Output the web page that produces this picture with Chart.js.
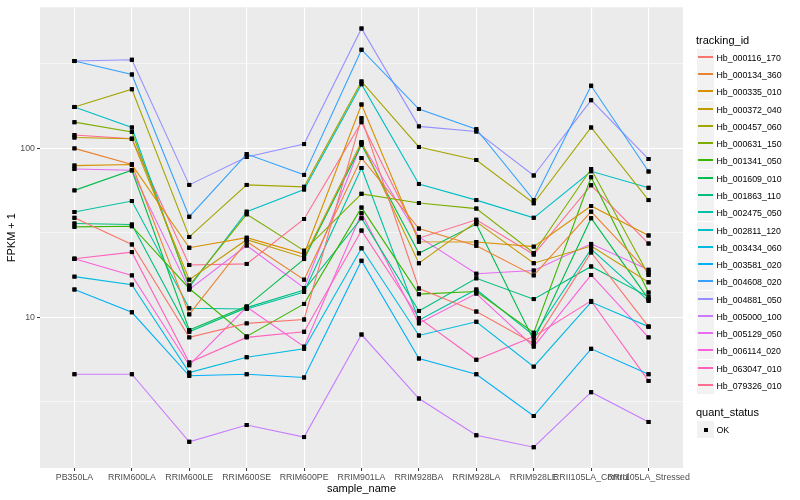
<!DOCTYPE html>
<html>
<head>
<meta charset="utf-8">
<script src="https://cdn.jsdelivr.net/npm/chart.js@4.4.1/dist/chart.umd.min.js"></script>
<style>
	body { margin: 0; background: #fff; }
	#wrap { position: relative; width: 800px; height: 500px; font-family: "Liberation Sans", Arial, sans-serif; }
	#chartFpkm { position: absolute; left: 0; top: 0; }
	.lg { position: absolute; white-space: nowrap; color: #000; }
	.lg-title { font-size: 11px; line-height: 13px; }
	.lg-text { font-size: 8.8px; line-height: 10px; }
	.lg-key { position: absolute; width: 17px; height: 17px; background: #f2f2f2; }
</style>
</head>
<body>
<div id="wrap">
	<canvas id="chartFpkm" width="800" height="500"></canvas>
	<div id="legend"></div>
</div>
<script>
// --------------
// DATA
// --------------
const sampleNames = ["PB350LA", "RRIM600LA", "RRIM600LE", "RRIM600SE", "RRIM600PE", "RRIM901LA", "RRIM928BA", "RRIM928LA", "RRIM928LE", "RRII105LA_Control", "RRII105LA_Stressed"];

const trackingIds = ["Hb_000116_170", "Hb_000134_360", "Hb_000335_010", "Hb_000372_040", "Hb_000457_060", "Hb_000631_150", "Hb_001341_050", "Hb_001609_010", "Hb_001863_110", "Hb_002475_050", "Hb_002811_120", "Hb_003434_060", "Hb_003581_020", "Hb_004608_020", "Hb_004881_050", "Hb_005000_100", "Hb_005129_050", "Hb_006114_020", "Hb_063047_010", "Hb_079326_010"];

// FPKM + 1, one value per sample
const Hb_000116_170 = [38.8, 27.0, 7.6, 9.2, 9.7, 151, 14.8, 10.8, 7.0, 24.2, 8.8];
const Hb_000134_360 = [100, 80.2, 10.4, 28.1, 16.7, 87.7, 33.5, 26.5, 17.7, 42.2, 18.4];
const Hb_000335_010 = [79.1, 80.2, 25.8, 29.6, 23.7, 182, 28.0, 27.9, 26.2, 45.6, 30.5];
const Hb_000372_040 = [116, 114, 16.7, 28.8, 22.6, 109, 20.9, 36.7, 20.9, 26.4, 16.1];
const Hb_000457_060 = [176, 224, 29.9, 60.8, 59.2, 249, 102, 85.3, 47.3, 133, 49.4];
const Hb_000631_150 = [143, 125, 15.4, 40.7, 24.8, 53.8, 47.5, 44.0, 24.0, 75.5, 17.8];
const Hb_001341_050 = [34.3, 34.6, 14.8, 7.7, 12.0, 44.6, 13.7, 14.2, 8.1, 67.5, 14.0];
const Hb_001609_010 = [56.4, 74.2, 8.4, 11.6, 22.1, 105, 23.9, 35.6, 7.3, 38.6, 12.8];
const Hb_001863_110 = [35.9, 35.4, 8.2, 11.4, 14.5, 38.6, 10.9, 17.0, 12.8, 20.0, 13.2];
const Hb_002475_050 = [42.0, 48.8, 11.3, 11.2, 14.1, 76.6, 9.6, 14.6, 7.8, 25.3, 12.5];
const Hb_002811_120 = [176, 133, 15.1, 42.2, 57.1, 240, 61.6, 49.4, 38.8, 73.2, 58.4];
const Hb_003434_060 = [17.4, 15.6, 4.7, 5.8, 6.5, 25.6, 7.8, 9.4, 5.1, 12.3, 8.8];
const Hb_003581_020 = [14.6, 10.7, 4.5, 4.6, 4.4, 21.6, 5.7, 4.6, 2.6, 6.5, 4.6];
const Hb_004608_020 = [329, 274, 39.4, 92.6, 69.7, 384, 171, 130, 49.4, 235, 73.0];
const Hb_004881_050 = [329, 335, 60.8, 88.9, 106, 513, 135, 126, 69.1, 193, 86.5];
const Hb_005000_100 = [4.6, 4.6, 1.83, 2.3, 1.95, 7.9, 3.3, 2.0, 1.70, 3.6, 2.4];
const Hb_005129_050 = [75.5, 74.2, 14.6, 26.6, 14.9, 107, 29.9, 18.1, 18.9, 27.2, 19.1];
const Hb_006114_020 = [22.2, 17.7, 5.2, 11.5, 6.7, 41.3, 9.2, 13.8, 6.7, 17.8, 7.6];
const Hb_063047_010 = [22.2, 24.3, 5.4, 7.6, 8.2, 32.6, 9.9, 5.6, 7.7, 12.5, 4.2];
const Hb_079326_010 = [120, 114, 20.4, 20.7, 38.2, 143, 29.4, 37.8, 23.5, 60.5, 27.3];

const seriesValues = [Hb_000116_170, Hb_000134_360, Hb_000335_010, Hb_000372_040, Hb_000457_060, Hb_000631_150, Hb_001341_050, Hb_001609_010, Hb_001863_110, Hb_002475_050, Hb_002811_120, Hb_003434_060, Hb_003581_020, Hb_004608_020, Hb_004881_050, Hb_005000_100, Hb_005129_050, Hb_006114_020, Hb_063047_010, Hb_079326_010];

const yTickValues = [10, 100];
const yTickLabels = ["10", "100"];
const yMinorValues = [3.162, 31.62, 316.2];
const quantStatus = ["OK"];

// ggplot hue palette, 20 levels
const lineColors = ["#F8766D", "#EA8331", "#D89000", "#C09B00", "#A3A500", "#7CAE00", "#39B600", "#00BB4E", "#00BF7D", "#00C1A3", "#00BFC4", "#00BAE0", "#00B0F6", "#35A2FF", "#9590FF", "#C77CFF", "#E76BF3", "#FA62DB", "#FF62BC", "#FF6C91"];

Chart.defaults.font.family = '"Liberation Sans", Arial, sans-serif';

// --------------
// PLUGINS
// --------------
const panelBackground = {
	id: "panelBackground",
	beforeDraw: (chart) => {
		const { ctx, chartArea: a } = chart;
		ctx.save();
		ctx.fillStyle = "#EBEBEB";
		ctx.fillRect(a.left, a.top, a.right - a.left, a.bottom - a.top);
		ctx.restore();
	},
};

// points above every line, like geom_point after geom_line
const pointsOnTop = {
	id: "pointsOnTop",
	afterDatasetsDraw: (chart) => {
		chart.data.datasets.forEach((d, i) => {
			chart.getDatasetMeta(i).data.forEach((p) => p.draw(chart.ctx, chart.chartArea));
		});
	},
};

// --------------
// CHART FPKM
// --------------
const setFpkmChart = () => {
	const dataFpkm = {
		datasets: trackingIds.map((id, s) => ({
			label: id,
			data: sampleNames.map((name, i) => ({ x: i, y: seriesValues[s][i] })),
			borderColor: lineColors[s],
			borderWidth: 1.1,
			pointStyle: "rect",
			pointRadius: 2.8,
			pointBackgroundColor: "#000000",
			pointBorderWidth: 0,
		})),
	};

	const configFpkm = {
		type: "line",
		data: dataFpkm,
		plugins: [panelBackground, pointsOnTop],
		options: {
			responsive: false,
			animation: false,
			layout: { padding: { left: 0, right: 117, top: 5, bottom: 0 } },
			plugins: {
				legend: { display: false },
				tooltip: { enabled: false },
			},
			scales: {
				x: {
					type: "linear",
					min: -0.6,
					max: sampleNames.length - 0.4,
					afterBuildTicks: (scale) => {
						scale.ticks = sampleNames.map((n, i) => ({ value: i }));
					},
					afterFit: (scale) => {
						scale.height = 32;
					},
					grid: { color: "#FFFFFF", lineWidth: 1.1, tickLength: 3, tickColor: "#333333", tickWidth: 1 },
					border: { display: false },
					ticks: {
						autoSkip: false,
						maxRotation: 0,
						minRotation: 0,
						padding: 1,
						color: "#4D4D4D",
						font: { size: 8.8 },
						callback: (v) => sampleNames[v],
					},
					title: { display: true, text: "sample_name", color: "#000000", font: { size: 11 }, padding: { top: 0, bottom: 4 } },
				},
				y: {
					type: "logarithmic",
					min: 1.28,
					max: 685,
					afterBuildTicks: (scale) => {
						scale.ticks = yMinorValues.concat(yTickValues).sort((a, b) => a - b).map((v) => ({ value: v }));
					},
					afterFit: (scale) => {
						scale.width = 40;
					},
					grid: {
						color: "#FFFFFF",
						lineWidth: (c) => (yTickValues.includes(c.tick.value) ? 1.1 : 0.55),
						tickLength: 3,
						tickColor: (c) => (yTickValues.includes(c.tick.value) ? "#333333" : "rgba(0,0,0,0)"),
						tickWidth: 1,
					},
					border: { display: false },
					ticks: {
						autoSkip: false,
						padding: 2,
						color: "#4D4D4D",
						font: { size: 8.8 },
						callback: (v) => {
							const k = yTickValues.indexOf(v);
							return k < 0 ? "" : yTickLabels[k];
						},
					},
					title: { display: true, text: "FPKM + 1", color: "#000000", font: { size: 11 }, padding: { top: 5, bottom: 0 } },
				},
			},
		},
	};

	const ChartFpkm = new Chart(document.getElementById("chartFpkm"), configFpkm);
};

// --------------
// LEGEND (two guides, ggplot style)
// --------------
const setLegend = () => {
	const keySize = 17.28;
	let html = '<div class="lg lg-title" style="left:696px;top:34px">tracking_id</div>';
	trackingIds.forEach((id, i) => {
		const top = Math.round(48.7 + i * keySize);
		html += `<div class="lg-key" style="left:697px;top:${top}px"><span style="position:absolute;left:1px;width:15px;top:7px;height:2px;background:${lineColors[i]}"></span></div>`;
		html += `<div class="lg lg-text" style="left:716.5px;top:${top + 3.5}px">${id}</div>`;
	});
	html += '<div class="lg lg-title" style="left:696px;top:405.8px">quant_status</div>';
	quantStatus.forEach((q, i) => {
		const top = Math.round(420.6 + i * keySize);
		html += `<div class="lg-key" style="left:697px;top:${top}px"><span style="position:absolute;left:7px;top:7px;width:4px;height:4px;background:#000"></span></div>`;
		html += `<div class="lg lg-text" style="left:716.5px;top:${top + 3.5}px">${q}</div>`;
	});
	document.getElementById("legend").innerHTML = html;
};

setFpkmChart();
setLegend();
</script>
</body>
</html>
